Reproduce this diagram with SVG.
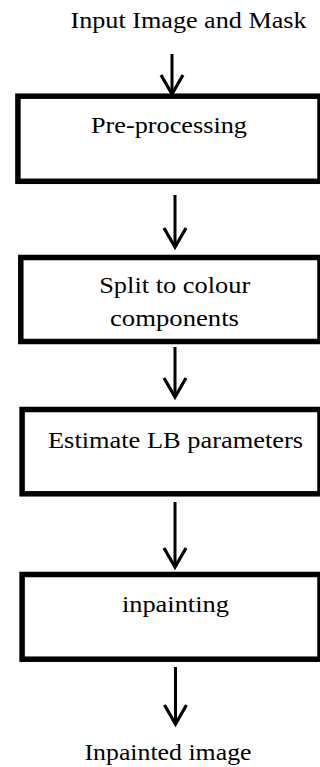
<svg xmlns="http://www.w3.org/2000/svg" width="320" height="767" viewBox="0 0 320 767">
  <defs>
    <style>
      .box { fill: #ffffff; stroke: #000000; stroke-width: 5.5; }
      .lbl { font-family: "Liberation Serif", "Times New Roman", serif; font-size: 24px; fill: #000000; text-anchor: middle; }
      .conn { stroke: #000000; stroke-width: 3; fill: none; }
    </style>
    <marker id="head" markerUnits="userSpaceOnUse" markerWidth="30" markerHeight="30" viewBox="-24 -15 28 30" refX="0" refY="0" orient="auto">
      <path d="M-19,-11 L0,0 L-19,11" fill="none" stroke="#000000" stroke-width="3.2" stroke-linejoin="miter"/>
    </marker>
  </defs>
  <rect width="320" height="767" fill="#ffffff"/>

  <g id="input">
    <text class="lbl" x="188.5" y="28" textLength="236" lengthAdjust="spacingAndGlyphs">Input Image and Mask</text>
  </g>

  <g id="preprocessing">
    <rect class="box" x="17.9" y="96.2" width="302.1" height="85.1"/>
    <text class="lbl" x="169" y="133" textLength="156" lengthAdjust="spacingAndGlyphs">Pre-processing</text>
  </g>

  <g id="split">
    <rect class="box" x="20.8" y="257.5" width="299.2" height="84"/>
    <text class="lbl" x="174.7" y="293.3" textLength="151" lengthAdjust="spacingAndGlyphs">Split to colour</text>
    <text class="lbl" x="174.5" y="325.5" textLength="129" lengthAdjust="spacingAndGlyphs">components</text>
  </g>

  <g id="estimate">
    <rect class="box" x="22.1" y="409.5" width="297.9" height="84.3"/>
    <text class="lbl" x="175.5" y="448.3" textLength="255" lengthAdjust="spacingAndGlyphs">Estimate LB parameters</text>
  </g>

  <g id="inpainting">
    <rect class="box" x="22.1" y="574.5" width="297.9" height="84.7"/>
    <text class="lbl" x="175.4" y="611.5" textLength="107" lengthAdjust="spacingAndGlyphs">inpainting</text>
  </g>

  <g id="output">
    <text class="lbl" x="168" y="760" textLength="167" lengthAdjust="spacingAndGlyphs">Inpainted image</text>
  </g>

  <g id="connectors">
    <line class="conn" x1="172" y1="54" x2="172" y2="94" marker-end="url(#head)"/>
    <line class="conn" x1="175" y1="195" x2="175" y2="247" marker-end="url(#head)"/>
    <line class="conn" x1="175" y1="347" x2="175" y2="397" marker-end="url(#head)"/>
    <line class="conn" x1="175" y1="502" x2="175" y2="567" marker-end="url(#head)"/>
    <line class="conn" x1="175.5" y1="667" x2="175.5" y2="724" marker-end="url(#head)"/>
  </g>
</svg>
